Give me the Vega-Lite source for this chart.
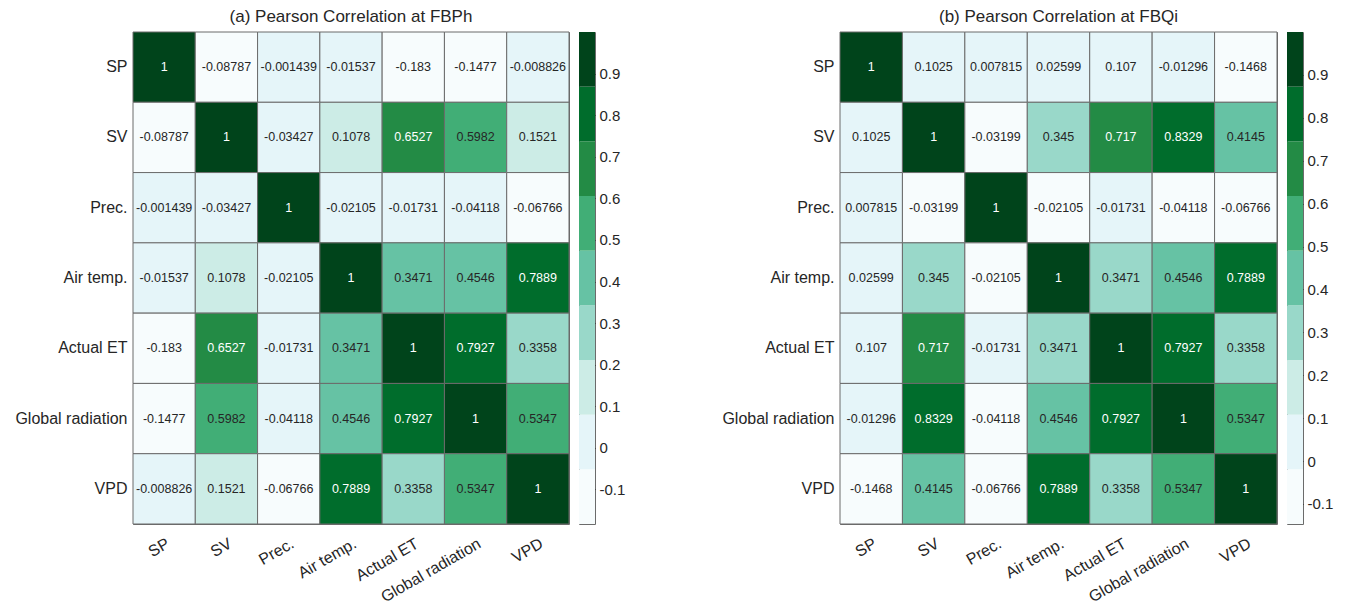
{
  "$schema": "https://vega.github.io/schema/vega-lite/v6.json",
  "padding": {"left": 12, "top": 6, "right": 0, "bottom": 0},
  "background": "white",
  "config": {
    "font": "Liberation Sans",
    "view": {"stroke": "#6b6b6b", "strokeWidth": 1},
    "title": {"fontSize": 17, "fontWeight": "normal", "color": "#262626", "offset": 6},
    "axis": {"labelColor": "#262626", "domain": false, "grid": false}
  },
  "spacing": 8,
  "bounds": "full",
  "resolve": {"scale": {"color": "independent"}},
  "datasets": {
    "a": [
      {"r": "SP", "c": "SP", "v": 1}, {"r": "SP", "c": "SV", "v": -0.08787}, {"r": "SP", "c": "Prec.", "v": -0.001439}, {"r": "SP", "c": "Air temp.", "v": -0.01537}, {"r": "SP", "c": "Actual ET", "v": -0.183}, {"r": "SP", "c": "Global radiation", "v": -0.1477}, {"r": "SP", "c": "VPD", "v": -0.008826},
      {"r": "SV", "c": "SP", "v": -0.08787}, {"r": "SV", "c": "SV", "v": 1}, {"r": "SV", "c": "Prec.", "v": -0.03427}, {"r": "SV", "c": "Air temp.", "v": 0.1078}, {"r": "SV", "c": "Actual ET", "v": 0.6527}, {"r": "SV", "c": "Global radiation", "v": 0.5982}, {"r": "SV", "c": "VPD", "v": 0.1521},
      {"r": "Prec.", "c": "SP", "v": -0.001439}, {"r": "Prec.", "c": "SV", "v": -0.03427}, {"r": "Prec.", "c": "Prec.", "v": 1}, {"r": "Prec.", "c": "Air temp.", "v": -0.02105}, {"r": "Prec.", "c": "Actual ET", "v": -0.01731}, {"r": "Prec.", "c": "Global radiation", "v": -0.04118}, {"r": "Prec.", "c": "VPD", "v": -0.06766},
      {"r": "Air temp.", "c": "SP", "v": -0.01537}, {"r": "Air temp.", "c": "SV", "v": 0.1078}, {"r": "Air temp.", "c": "Prec.", "v": -0.02105}, {"r": "Air temp.", "c": "Air temp.", "v": 1}, {"r": "Air temp.", "c": "Actual ET", "v": 0.3471}, {"r": "Air temp.", "c": "Global radiation", "v": 0.4546}, {"r": "Air temp.", "c": "VPD", "v": 0.7889},
      {"r": "Actual ET", "c": "SP", "v": -0.183}, {"r": "Actual ET", "c": "SV", "v": 0.6527}, {"r": "Actual ET", "c": "Prec.", "v": -0.01731}, {"r": "Actual ET", "c": "Air temp.", "v": 0.3471}, {"r": "Actual ET", "c": "Actual ET", "v": 1}, {"r": "Actual ET", "c": "Global radiation", "v": 0.7927}, {"r": "Actual ET", "c": "VPD", "v": 0.3358},
      {"r": "Global radiation", "c": "SP", "v": -0.1477}, {"r": "Global radiation", "c": "SV", "v": 0.5982}, {"r": "Global radiation", "c": "Prec.", "v": -0.04118}, {"r": "Global radiation", "c": "Air temp.", "v": 0.4546}, {"r": "Global radiation", "c": "Actual ET", "v": 0.7927}, {"r": "Global radiation", "c": "Global radiation", "v": 1}, {"r": "Global radiation", "c": "VPD", "v": 0.5347},
      {"r": "VPD", "c": "SP", "v": -0.008826}, {"r": "VPD", "c": "SV", "v": 0.1521}, {"r": "VPD", "c": "Prec.", "v": -0.06766}, {"r": "VPD", "c": "Air temp.", "v": 0.7889}, {"r": "VPD", "c": "Actual ET", "v": 0.3358}, {"r": "VPD", "c": "Global radiation", "v": 0.5347}, {"r": "VPD", "c": "VPD", "v": 1}
    ],
    "b": [
      {"r": "SP", "c": "SP", "v": 1}, {"r": "SP", "c": "SV", "v": 0.1025}, {"r": "SP", "c": "Prec.", "v": 0.007815}, {"r": "SP", "c": "Air temp.", "v": 0.02599}, {"r": "SP", "c": "Actual ET", "v": 0.107}, {"r": "SP", "c": "Global radiation", "v": -0.01296}, {"r": "SP", "c": "VPD", "v": -0.1468},
      {"r": "SV", "c": "SP", "v": 0.1025}, {"r": "SV", "c": "SV", "v": 1}, {"r": "SV", "c": "Prec.", "v": -0.03199}, {"r": "SV", "c": "Air temp.", "v": 0.345}, {"r": "SV", "c": "Actual ET", "v": 0.717}, {"r": "SV", "c": "Global radiation", "v": 0.8329}, {"r": "SV", "c": "VPD", "v": 0.4145},
      {"r": "Prec.", "c": "SP", "v": 0.007815}, {"r": "Prec.", "c": "SV", "v": -0.03199}, {"r": "Prec.", "c": "Prec.", "v": 1}, {"r": "Prec.", "c": "Air temp.", "v": -0.02105}, {"r": "Prec.", "c": "Actual ET", "v": -0.01731}, {"r": "Prec.", "c": "Global radiation", "v": -0.04118}, {"r": "Prec.", "c": "VPD", "v": -0.06766},
      {"r": "Air temp.", "c": "SP", "v": 0.02599}, {"r": "Air temp.", "c": "SV", "v": 0.345}, {"r": "Air temp.", "c": "Prec.", "v": -0.02105}, {"r": "Air temp.", "c": "Air temp.", "v": 1}, {"r": "Air temp.", "c": "Actual ET", "v": 0.3471}, {"r": "Air temp.", "c": "Global radiation", "v": 0.4546}, {"r": "Air temp.", "c": "VPD", "v": 0.7889},
      {"r": "Actual ET", "c": "SP", "v": 0.107}, {"r": "Actual ET", "c": "SV", "v": 0.717}, {"r": "Actual ET", "c": "Prec.", "v": -0.01731}, {"r": "Actual ET", "c": "Air temp.", "v": 0.3471}, {"r": "Actual ET", "c": "Actual ET", "v": 1}, {"r": "Actual ET", "c": "Global radiation", "v": 0.7927}, {"r": "Actual ET", "c": "VPD", "v": 0.3358},
      {"r": "Global radiation", "c": "SP", "v": -0.01296}, {"r": "Global radiation", "c": "SV", "v": 0.8329}, {"r": "Global radiation", "c": "Prec.", "v": -0.04118}, {"r": "Global radiation", "c": "Air temp.", "v": 0.4546}, {"r": "Global radiation", "c": "Actual ET", "v": 0.7927}, {"r": "Global radiation", "c": "Global radiation", "v": 1}, {"r": "Global radiation", "c": "VPD", "v": 0.5347},
      {"r": "VPD", "c": "SP", "v": -0.1468}, {"r": "VPD", "c": "SV", "v": 0.4145}, {"r": "VPD", "c": "Prec.", "v": -0.06766}, {"r": "VPD", "c": "Air temp.", "v": 0.7889}, {"r": "VPD", "c": "Actual ET", "v": 0.3358}, {"r": "VPD", "c": "Global radiation", "v": 0.5347}, {"r": "VPD", "c": "VPD", "v": 1}
    ],
    "barA": [
      {"band": 1, "lo": -0.183, "hi": -0.0516}, {"band": 2, "lo": -0.0516, "hi": 0.0799}, {"band": 3, "lo": 0.0799, "hi": 0.2113},
      {"band": 4, "lo": 0.2113, "hi": 0.3428}, {"band": 5, "lo": 0.3428, "hi": 0.4742}, {"band": 6, "lo": 0.4742, "hi": 0.6057},
      {"band": 7, "lo": 0.6057, "hi": 0.7371}, {"band": 8, "lo": 0.7371, "hi": 0.8686}, {"band": 9, "lo": 0.8686, "hi": 1}
    ],
    "barB": [
      {"band": 1, "lo": -0.1468, "hi": -0.0194}, {"band": 2, "lo": -0.0194, "hi": 0.108}, {"band": 3, "lo": 0.108, "hi": 0.2354},
      {"band": 4, "lo": 0.2354, "hi": 0.3629}, {"band": 5, "lo": 0.3629, "hi": 0.4903}, {"band": 6, "lo": 0.4903, "hi": 0.6177},
      {"band": 7, "lo": 0.6177, "hi": 0.7451}, {"band": 8, "lo": 0.7451, "hi": 0.8726}, {"band": 9, "lo": 0.8726, "hi": 1}
    ]
  },
  "hconcat": [
    {
      "width": 436, "height": 492,
      "title": "(a) Pearson Correlation at FBPh",
      "data": {"name": "a"},
      "encoding": {
        "x": {"field": "c", "type": "nominal", "sort": ["SP", "SV", "Prec.", "Air temp.", "Actual ET", "Global radiation", "VPD"],
              "axis": {"title": null, "ticks": false, "labelAngle": -30, "labelAlign": "right", "labelBaseline": "top", "labelPadding": 11, "labelFontSize": 16}},
        "y": {"field": "r", "type": "nominal", "sort": ["SP", "SV", "Prec.", "Air temp.", "Actual ET", "Global radiation", "VPD"],
              "axis": {"title": null, "ticks": false, "labelPadding": 6, "labelFontSize": 16, "minExtent": 120}}
      },
      "layer": [
        {"mark": {"type": "rect", "stroke": "#6b6b6b", "strokeWidth": 1},
         "encoding": {"color": {"field": "v", "type": "quantitative", "legend": null,
           "scale": {"type": "quantize", "domain": [-0.183, 1], "nice": false, "range": ["#f7fcfd", "#e5f5f9", "#ccece6", "#99d8c9", "#66c2a4", "#41ae76", "#238b45", "#006d2c", "#00441b"]}}}},
        {"mark": {"type": "text", "fontSize": 12.5},
         "encoding": {"text": {"field": "v", "type": "nominal"},
           "color": {"condition": {"test": "datum.v > 0.6", "value": "#ffffff"}, "value": "#262626"}}}
      ]
    },
    {
      "width": 16, "height": 492,
      "title": " ",
      "data": {"name": "barA"},
      "mark": {"type": "rect"},
      "encoding": {
        "y": {"field": "lo", "type": "quantitative", "scale": {"domain": [-0.183, 1], "nice": false, "zero": false},
              "axis": {"orient": "right", "title": null, "values": [-0.1, 0, 0.1, 0.2, 0.3, 0.4, 0.5, 0.6, 0.7, 0.8, 0.9],
                       "labelExpr": "toString(round(datum.value * 10) / 10)", "tickSize": -3, "tickColor": "#262626",
                       "labelFontSize": 15, "labelPadding": 7, "labelFlush": false, "labelOverlap": false, "minExtent": 40, "maxExtent": 40}},
        "y2": {"field": "hi"},
        "color": {"field": "band", "type": "ordinal", "legend": null,
                  "scale": {"range": ["#f7fcfd", "#e5f5f9", "#ccece6", "#99d8c9", "#66c2a4", "#41ae76", "#238b45", "#006d2c", "#00441b"]}}
      }
    },
    {
      "width": 437, "height": 492,
      "title": "(b) Pearson Correlation at FBQi",
      "data": {"name": "b"},
      "encoding": {
        "x": {"field": "c", "type": "nominal", "sort": ["SP", "SV", "Prec.", "Air temp.", "Actual ET", "Global radiation", "VPD"],
              "axis": {"title": null, "ticks": false, "labelAngle": -30, "labelAlign": "right", "labelBaseline": "top", "labelPadding": 11, "labelFontSize": 16}},
        "y": {"field": "r", "type": "nominal", "sort": ["SP", "SV", "Prec.", "Air temp.", "Actual ET", "Global radiation", "VPD"],
              "axis": {"title": null, "ticks": false, "labelPadding": 6, "labelFontSize": 16, "minExtent": 195, "maxExtent": 195}}
      },
      "layer": [
        {"mark": {"type": "rect", "stroke": "#6b6b6b", "strokeWidth": 1},
         "encoding": {"color": {"field": "v", "type": "quantitative", "legend": null,
           "scale": {"type": "quantize", "domain": [-0.1468, 1], "nice": false, "range": ["#f7fcfd", "#e5f5f9", "#ccece6", "#99d8c9", "#66c2a4", "#41ae76", "#238b45", "#006d2c", "#00441b"]}}}},
        {"mark": {"type": "text", "fontSize": 12.5},
         "encoding": {"text": {"field": "v", "type": "nominal"},
           "color": {"condition": {"test": "datum.v > 0.6", "value": "#ffffff"}, "value": "#262626"}}}
      ]
    },
    {
      "width": 16, "height": 492,
      "title": " ",
      "data": {"name": "barB"},
      "mark": {"type": "rect"},
      "encoding": {
        "y": {"field": "lo", "type": "quantitative", "scale": {"domain": [-0.1468, 1], "nice": false, "zero": false},
              "axis": {"orient": "right", "title": null, "values": [-0.1, 0, 0.1, 0.2, 0.3, 0.4, 0.5, 0.6, 0.7, 0.8, 0.9],
                       "labelExpr": "toString(round(datum.value * 10) / 10)", "tickSize": -3, "tickColor": "#262626",
                       "labelFontSize": 15, "labelPadding": 7, "labelFlush": false, "labelOverlap": false, "minExtent": 40, "maxExtent": 40}},
        "y2": {"field": "hi"},
        "color": {"field": "band", "type": "ordinal", "legend": null,
                  "scale": {"range": ["#f7fcfd", "#e5f5f9", "#ccece6", "#99d8c9", "#66c2a4", "#41ae76", "#238b45", "#006d2c", "#00441b"]}}
      }
    }
  ]
}
